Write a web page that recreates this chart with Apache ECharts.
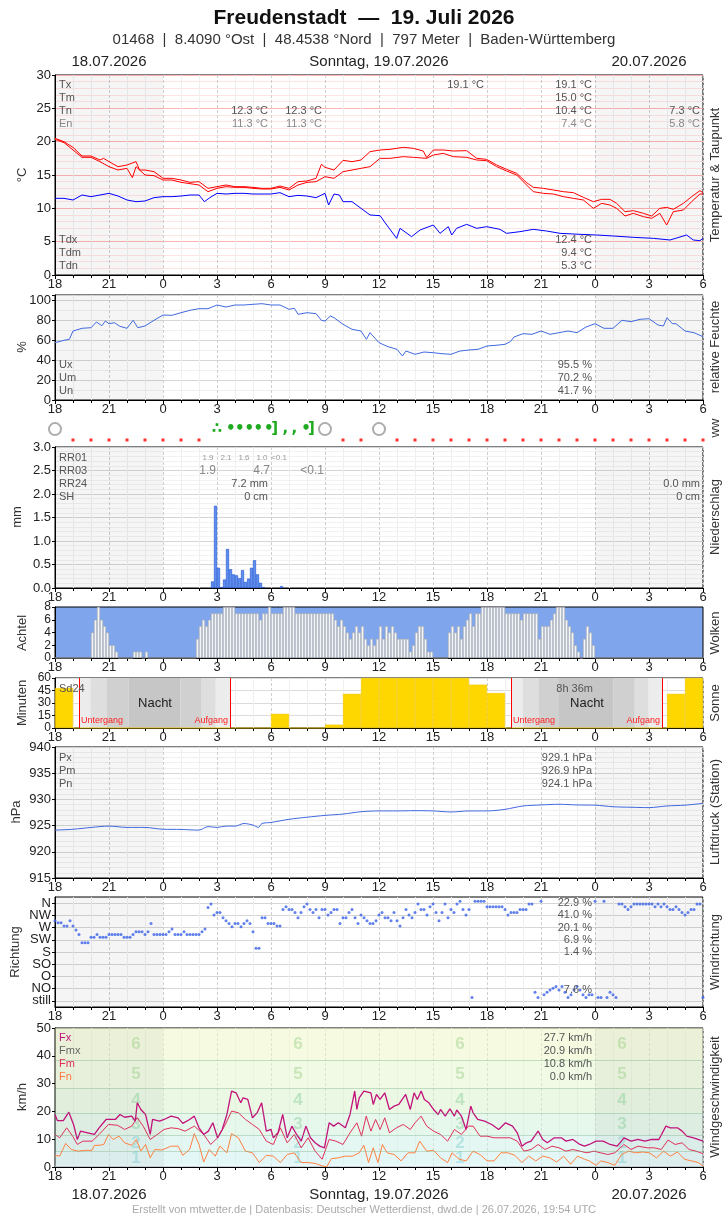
<!DOCTYPE html>
<html>
<head>
<meta charset="utf-8">
<script src="https://cdn.jsdelivr.net/npm/echarts@6/dist/echarts.min.js"></script>
<style>html,body{margin:0;padding:0;background:#fff}#chart{width:728px;height:1218px}</style>
</head>
<body>
<div id="chart"></div>
<script>
// Stunden ab 18.07. 18:00 UTC (0 .. 36)
const nightSpans = [[0, 6], [30, 36]];

// Temperatur (2 Kurven) und Taupunkt, [Stunde, °C]
const tempA = [[0,20.5],[0.5,20.0],[1.0,19.15],[1.5,17.85],[2.0,17.85],[2.5,17.25],[2.7,17.5],[3.0,17.0],[3.5,16.25],[4.0,16.5],[4.5,17.0],[4.7,15.75],[5.0,15.75],[5.5,15.5],[6.0,14.5],[6.5,14.5],[7.0,14.25],[7.5,13.9],[8.0,14.0],[8.5,13.0],[9.0,13.25],[9.5,13.5],[10,13.25],[10.5,13.25],[11,13.15],[11.5,13.0],[12,13.0],[12.5,13.35],[13,13.0],[13.5,14.0],[14,14.1],[14.5,14.5],[14.8,16.6],[15.0,16.15],[15.5,15.75],[16,17.2],[16.5,17.0],[17,17.25],[17.5,18.5],[18.06,18.75],[18.61,18.85],[19.35,19.15],[19.91,19.0],[20.46,18.6],[20.65,17.6],[21.02,18.75],[21.57,18.75],[22.13,18.6],[22.87,18.65],[23.43,17.5],[23.98,17.35],[24.54,16.5],[25.09,15.85],[25.65,15.25],[26.2,13.85],[26.57,13.15],[27.13,13.0],[27.69,12.75],[28.24,12.5],[28.8,12.35],[29.35,11.65],[29.91,11.0],[30.37,11.35],[30.83,11.35],[31.2,10.75],[31.67,9.5],[32.13,9.65],[32.69,9.25],[33.15,8.85],[33.6,10.0],[33.98,10.15],[34.35,9.85],[34.91,10.75],[35.37,11.75],[35.83,12.65],[36,12.35]];
const tempB = [[0,20.35],[0.5,19.85],[1,18.75],[1.5,17.65],[2,17.65],[2.5,17.0],[3,16.25],[3.5,15.75],[4,16.0],[4.3,14.6],[4.5,16.25],[5,15.0],[5.5,14.9],[6,14.25],[6.5,14.25],[7,13.9],[7.5,13.7],[8,13.5],[8.5,12.5],[9,13.0],[9.5,13.25],[10,13.15],[10.5,13.15],[11,13.0],[11.5,12.9],[12,12.9],[12.5,13.15],[13,12.75],[13.5,13.5],[14,13.9],[14.5,14.0],[15,14.75],[15.5,14.5],[16,15.5],[16.5,15.75],[17,16.0],[17.5,16.25],[18.06,17.5],[18.61,17.5],[19.35,17.75],[19.91,17.65],[20.65,17.5],[21.02,18.0],[21.57,18.25],[22.13,17.75],[22.87,17.65],[23.43,17.25],[23.98,17.15],[24.54,16.25],[25.09,15.6],[25.65,15.0],[26.2,13.5],[26.57,12.5],[27.13,12.25],[27.69,12.15],[28.24,11.75],[28.8,11.5],[29.35,11.25],[29.91,10.0],[30.37,10.75],[30.83,10.5],[31.2,10.0],[31.67,8.85],[32.13,9.25],[32.69,8.75],[33.15,8.5],[33.6,9.25],[33.98,7.5],[34.35,9.5],[34.91,9.75],[35.37,11.0],[35.83,12.15],[36,12.15]];
const dewPoint = [[0,11.5],[0.5,11.5],[1,11.25],[1.5,12.0],[2,11.75],[2.5,12.0],[3,12.25],[3.5,11.85],[4,11.25],[4.5,11.0],[5,11.1],[5.5,11.6],[6,11.75],[6.5,11.75],[7,11.85],[7.5,12.0],[8,12.0],[8.3,11.0],[8.6,11.6],[9,12.25],[9.5,12.15],[10,12.25],[10.5,12.25],[11,12.15],[11.5,12.15],[12,12.15],[12.5,12.35],[13,11.75],[13.5,11.95],[14,11.85],[14.5,11.6],[15,12.25],[15.2,10.5],[15.5,12.15],[15.8,12.0],[16,11.0],[16.5,11.0],[17,10.0],[17.5,9.0],[18.06,8.9],[18.43,7.5],[18.98,5.5],[19.17,7.0],[19.81,5.75],[20.28,6.75],[21.02,7.5],[21.39,6.25],[21.85,7.25],[22.04,6.0],[22.31,7.0],[22.87,7.6],[23.43,7.0],[23.98,7.25],[24.72,6.85],[25.09,6.25],[25.83,6.5],[26.57,6.85],[27.31,6.6],[28.06,6.25],[29.17,6.1],[30.09,6.0],[31.02,5.85],[32.13,5.65],[33.24,5.5],[34.17,5.25],[35.09,6.0],[35.46,5.25],[35.83,5.15],[36,5.5]];

// relative Feuchte [Stunde, %]
const humidity = [[0,57.3],[0.5,59.7],[0.8,60.7],[1.0,69],[1.5,71.7],[2,72.3],[2.3,78],[2.6,74.3],[2.8,79],[3,76.3],[3.3,77.3],[3.6,73.7],[4,71.7],[4.34,79.7],[4.6,72.3],[5,74],[5.5,79.7],[6,85],[6.5,84.7],[7,87.3],[7.5,89.7],[8,91.3],[8.5,91.3],[9,95],[9.5,93],[10,95],[10.5,95],[11,95.7],[11.5,96.3],[12,95],[12.5,95],[13,90.7],[13.3,91.7],[13.5,85.7],[14,87.3],[14.5,86.3],[14.8,79.7],[15,79],[15.3,84],[15.5,82.3],[16,75.7],[16.5,70.7],[17,69],[17.3,60.7],[17.5,67.3],[18,57.3],[18.5,53.3],[19,50.7],[19.3,44],[19.5,49],[20,45.7],[20.5,48],[21,47.3],[21.5,46.3],[22,45.7],[22.5,49],[23,50],[23.5,50.7],[24,54],[24.5,54.7],[25,55.7],[25.3,58.3],[25.5,63],[26,66.3],[26.5,65.7],[27,69],[27.5,65.7],[28,67.3],[28.5,69],[29,67.3],[29.5,73],[30,76.3],[30.5,71.7],[31,71.7],[31.5,79.7],[32,78.3],[32.5,80.7],[33,81.3],[33.5,75],[33.8,74],[34,82.3],[34.3,76.3],[34.5,76.3],[35,69],[35.5,67.3],[36,63.3]];

// ww-Symbole
const wwClear = [0, 15, 18];
const wwGlyphs = [['∴', 9.0], ['•', 9.77], ['•', 10.26], ['•', 10.79], ['•', 11.3], ['•', 11.88], [']', 12.2], [',', 12.8], [',', 13.3], ['•', 13.95], [']', 14.25]];
const wwNone = [1,2,3,4,5,6,7,8,16,17,19,20,21,22,23,24,25,26,27,28,29,30,31,32,33,34,35,36];

// Niederschlag 10-min [Intervall-Nr. (x6 = Stunde), mm]
const rr10 = [[52,0.14],[53,1.75],[54,0.43],[55,0.02],[56,0.18],[57,0.83],[58,0.40],[59,0.29],[60,0.27],[61,0.21],[62,0.38],[63,0.13],[64,0.20],[65,0.43],[66,0.59],[67,0.29],[68,0.11],[69,0.02],[75,0.04]];

// Bedeckung in Achtel, 10-min
const clouds = [
  0,0,0,0,0,0,0,0,0,0,0,0,4,6,8,6,5,4,
  2,2,1,0,0,0,0,0,1,1,1,0,1,0,0,0,0,0,
  0,0,0,0,0,0,0,0,0,0,0,3,5,6,5,6,7,7,
  7,7,8,8,8,8,7,7,7,7,7,7,7,7,6,7,7,8,
  7,7,7,7,8,8,8,8,7,7,7,7,7,7,7,7,7,7,
  7,7,7,6,5,6,5,4,3,4,5,4,5,3,2,3,2,3,
  5,3,5,4,5,4,3,3,3,3,1,2,4,5,5,3,1,1,
  0,0,0,0,0,4,5,4,5,3,5,6,7,5,7,7,8,8,
  8,8,8,8,8,8,7,7,7,7,7,6,7,7,7,7,7,3,
  5,5,5,6,7,8,8,8,6,5,4,2,1,0,3,5,4,2,
  0,0,0,0,0,0,0,0,0,0,0,0,0,0,0,0,0,0,
  0,0,0,0,0,0,0,0,0,0,0,0,0,0,0,0,0,0
];

// Sonnenscheindauer je Stunde (Minuten)
const sunMin = [48,0,0,0,0,0,0,0,0,0,0,0,17,0,0,4,41,60,60,60,60,60,60,52,42,0,0,0,0,0,0,0,0,0,41,60];
// Untergang, Daemmerungsgrenzen, Aufgang (Stunden)
const night1 = [1.34, 1.96, 2.89, 4.08, 6.97, 8.15, 8.93, 9.73];
const night2 = [25.34, 25.99, 26.89, 28.0, 31.02, 32.21, 32.98, 33.75];

// Luftdruck [Stunde, hPa]
const pressure = [[0,924.14],[1,924.3],[2,924.65],[3,924.9],[4,924.65],[5,924.65],[6,924.3],[7,924.27],[8,924.14],[8.5,924.8],[9,924.65],[9.5,924.9],[10,924.9],[10.5,925.4],[11,925.1],[11.3,924.65],[11.5,925.4],[12,925.6],[13,926.2],[14,926.6],[15,926.95],[16,927.2],[17,927.65],[18,927.8],[19,927.8],[20,927.85],[21,927.8],[22,927.6],[23,927.8],[24,927.8],[25,928.1],[26,928.75],[27,928.94],[28,929.07],[29,928.94],[30,928.9],[31,928.6],[32,928.5],[33,928.43],[34,928.75],[35,928.9],[36,929.25]];

// Windrichtung 10-min (0=N,1=NW,2=W,3=SW,4=S,5=SO,6=O,7=NO,8=still)
const dirNames = ['N', 'NW', 'W', 'SW', 'S', 'SO', 'O', 'NO', 'still'];
const windDir = [
  1.44,1.6,1.6,1.88,1.88,1.44,1.88,2.2,2.56,3.24,
  3.24,3.24,2.8,2.8,2.56,2.8,2.8,2.8,2.56,2.56,
  2.56,2.56,2.56,2.8,2.8,2.8,2.56,2.34,2.34,2.34,
  2.56,2.34,1.66,2.56,2.56,2.56,2.56,2.56,2.34,2.12,
  2.56,2.56,2.56,2.34,2.56,2.56,2.56,2.56,2.56,2.34,
  2.12,0.35,0.08,0.98,0.76,0.76,1.2,1.44,1.66,1.93,
  1.66,1.66,1.93,1.66,1.44,1.66,2.34,3.7,3.7,1.2,
  1.2,1.66,1.66,1.66,1.88,1.88,0.52,0.3,0.52,0.52,
  0.76,1.2,0.76,0.3,0.08,0.52,0.76,0.52,1.2,0.52,
  0.52,0.98,0.76,0.52,0.52,1.66,1.2,1.2,0.76,0.52,
  1.2,1.66,0.98,1.2,1.44,1.66,1.66,1.44,0.98,0.76,
  1.2,1.2,1.44,0.76,1.44,1.88,1.2,0.52,0.98,1.2,
  0.76,0.08,0.52,0.52,0.98,0.3,0.08,0.76,1.44,0.76,
  0.08,1.2,0.52,0.76,0.08,-0.16,0.52,0.98,0.52,7.73,
  -0.16,-0.16,-0.16,-0.16,0.3,0.3,0.3,0.3,0.3,0.3,
  0.52,0.98,0.76,0.76,0.76,0.52,0.52,0.52,0.08,0.08,
  7.3,7.73,-0.16,7.5,7.3,7.1,6.97,6.83,7.1,6.83,
  7.3,7.73,7.5,7.1,6.83,7.1,7.5,7.73,7.5,7.5,
  -0.16,7.73,7.73,-0.16,7.73,7.3,7.5,7.73,0.08,0.08,
  0.3,0.52,0.3,0.08,0.08,0.08,0.08,0.08,0.08,0.08,
  0.3,0.08,0.3,0.08,0.3,0.52,0.52,0.3,0.52,0.76,
  0.98,0.76,0.52,0.52,0.08,0.08,7.73
];

// Windgeschwindigkeit [Stunde, km/h]
const windFx = [[0,18.9],[0.13,16.7],[0.46,16.7],[0.77,19.7],[1.03,15.3],[1.24,9.9],[1.42,12.9],[1.81,12.3],[2.19,11.7],[2.45,14.1],[2.84,17.1],[3.35,17.1],[3.61,18.9],[3.87,17.9],[4.26,18.3],[4.46,16.5],[4.57,23.1],[4.77,20.7],[5.03,18.9],[5.29,11.7],[5.42,17.1],[5.81,16.5],[6.06,17.1],[6.45,18.3],[6.84,17.7],[7.1,15.7],[7.48,17.1],[7.74,18.3],[8.0,14.1],[8.26,11.7],[8.52,12.9],[8.77,15.9],[9.03,10.5],[9.29,13.5],[9.55,18.9],[9.81,27.3],[10.06,26.7],[10.32,23.1],[10.45,24.9],[10.71,24.3],[10.97,17.7],[11.23,19.5],[11.48,23.1],[11.74,12.9],[12.0,13.5],[12.13,10.5],[12.39,12.3],[12.65,18.9],[12.9,10.5],[13.16,14.7],[13.42,11.7],[13.68,9.3],[13.94,14.7],[14.19,10.5],[14.45,8.7],[14.71,7.5],[14.97,6.9],[15.23,15.9],[15.48,14.7],[15.74,15.9],[16.13,14.1],[16.39,18.9],[16.65,27.3],[16.77,20.7],[16.9,24.9],[17.16,27.3],[17.55,26.7],[17.68,22.5],[17.86,26.1],[18.06,24.3],[18.32,26.7],[18.58,20.7],[18.84,21.9],[19.1,22.5],[19.48,26.1],[19.74,20.7],[19.95,26.7],[20.13,24.3],[20.34,27.3],[20.52,24.3],[20.77,23.1],[21.03,20.7],[21.29,18.9],[21.42,20.7],[21.68,18.3],[21.94,20.9],[22.19,18.3],[22.32,20.5],[22.58,18.3],[22.84,13.5],[23.1,21.9],[23.23,19.5],[23.48,17.1],[23.87,16.5],[24.26,15.3],[24.65,13.5],[25.03,15.9],[25.42,14.7],[25.68,12.3],[25.94,7.5],[26.19,8.7],[26.45,9.3],[26.84,12.9],[27.1,9.9],[27.35,8.7],[27.74,10.5],[28.13,10.5],[28.39,9.3],[28.77,9.9],[29.16,8.1],[29.42,7.5],[29.68,8.1],[30.06,9.3],[30.45,9.3],[30.84,8.1],[31.23,7.5],[31.61,10.5],[32.0,9.3],[32.39,9.9],[32.77,9.3],[33.16,9.9],[33.55,9.9],[33.94,14.7],[34.19,14.1],[34.58,14.1],[34.84,12.9],[35.1,11.1],[35.48,10.5],[36,9.3]];
const windFm = [[0,11.7],[0.26,10.5],[0.65,14.1],[0.98,11.1],[1.24,8.1],[1.55,9.3],[2.06,9.3],[2.45,11.7],[2.97,15.3],[3.48,15.0],[3.87,13.5],[4.26,14.7],[4.57,17.7],[4.9,14.7],[5.29,9.9],[5.68,11.7],[6.06,13.5],[6.45,14.1],[6.84,13.8],[7.23,12.9],[7.74,14.7],[8.26,11.7],[8.65,8.1],[9.03,10.5],[9.42,14.7],[9.81,20.1],[10.19,19.5],[10.58,17.1],[10.97,15.3],[11.35,13.5],[11.74,9.3],[12.13,8.1],[12.52,14.1],[12.9,8.7],[13.29,11.7],[13.68,6.9],[14.06,10.5],[14.45,5.7],[14.84,2.8],[15.23,9.9],[15.61,9.3],[16.0,8.1],[16.39,12.3],[16.77,15.9],[17.03,11.1],[17.29,18.3],[17.55,12.9],[17.81,17.1],[18.06,13.5],[18.32,17.7],[18.58,12.3],[18.97,14.1],[19.35,15.3],[19.74,13.5],[20.0,15.9],[20.34,18.3],[20.65,14.7],[21.03,12.9],[21.42,11.7],[21.81,9.3],[22.19,13.5],[22.58,11.7],[22.97,14.7],[23.23,14.7],[23.61,11.1],[24.0,11.1],[24.39,10.5],[24.77,10.5],[25.29,10.5],[25.68,9.3],[26.06,5.7],[26.45,6.3],[26.84,8.1],[27.23,6.3],[27.61,7.5],[28.0,6.9],[28.39,5.7],[28.77,6.3],[29.16,5.7],[29.55,5.1],[29.94,5.7],[30.32,5.1],[30.71,4.5],[31.1,5.1],[31.61,8.1],[32.0,6.3],[32.39,7.5],[32.9,6.9],[33.29,6.9],[33.68,6.3],[34.06,9.7],[34.45,8.1],[34.84,8.7],[35.23,6.3],[35.61,5.7],[36,4.8]];
const windFn = [[0,4.2],[0.26,3.9],[0.59,8.5],[0.9,6.3],[1.29,5.7],[1.68,6.0],[2.06,6.0],[2.19,7.8],[2.45,7.8],[2.71,8.1],[2.97,11.7],[3.23,9.9],[3.56,11.1],[3.87,8.7],[4.26,7.8],[4.52,9.9],[4.77,5.7],[5.03,8.1],[5.29,3.3],[5.55,6.3],[5.94,6.1],[6.45,7.5],[6.84,7.5],[7.1,4.2],[7.48,6.3],[7.74,12.0],[8.0,8.1],[8.26,1.8],[8.57,6.3],[8.9,3.9],[9.16,7.5],[9.55,5.1],[9.81,12.0],[10.19,10.5],[10.58,5.7],[10.97,5.1],[11.35,1.6],[11.74,4.2],[12.13,3.9],[12.52,1.6],[12.9,4.5],[13.29,5.1],[13.68,1.6],[14.06,1.6],[14.45,1.3],[14.84,0.4],[15.1,0.1],[15.35,3.0],[15.74,3.3],[16.13,3.9],[16.52,3.9],[16.9,5.1],[17.16,7.8],[17.42,1.6],[17.68,6.9],[17.94,1.6],[18.19,8.1],[18.45,5.1],[18.84,4.5],[19.23,2.2],[19.61,5.1],[20.0,5.1],[20.26,9.3],[20.65,5.7],[21.03,6.0],[21.42,3.3],[21.81,1.6],[22.06,5.1],[22.45,2.8],[22.84,2.2],[23.23,5.7],[23.61,4.5],[24.0,2.2],[24.39,2.2],[24.77,5.1],[25.16,5.1],[25.55,4.2],[25.94,1.6],[26.32,3.9],[26.71,2.2],[27.1,3.9],[27.48,3.3],[27.87,1.8],[28.26,3.9],[28.65,1.0],[29.03,3.9],[29.42,2.8],[29.68,2.2],[30.06,0.6],[30.32,2.2],[30.71,1.6],[31.1,0.6],[31.48,4.5],[31.87,5.7],[32.26,5.1],[32.65,5.4],[33.03,5.1],[33.42,3.3],[33.81,5.7],[34.19,3.9],[34.58,5.4],[34.97,2.8],[35.35,2.2],[35.74,1.6],[36,0.4]];

// Beaufort-Grenzen (km/h) und Beschriftungsstunden
const bftBounds = [0, 1, 5.5, 11.5, 19.5, 28.5, 38.5, 50];
const bftLabelHours = [4.5, 13.5, 22.5, 31.5];

// --- Layout ---
const NARROW = '"Liberation Sans Narrow", "Liberation Sans", sans-serif';
const SANS = '"Liberation Sans", Arial, sans-serif';
const L = 55, W = 648;
const gridBoxes = [[75, 200], [295, 105], [415, 30], [447, 141], [607, 51], [678, 50], [747, 131], [897, 110], [1028, 139]];

const grids = gridBoxes.map((b, i) => ({
  left: L, width: W, top: b[0], height: b[1],
  show: i !== 2, borderColor: '#000', borderWidth: 1,
  backgroundColor: i === 4 ? '#7fa6ec' : '#fff'
}));

function xAx(i) {
  return {
    type: 'value', gridIndex: i, min: 0, max: 36, interval: 3, show: i !== 2,
    axisLine: { onZero: false, lineStyle: { color: '#000' } },
    axisTick: { length: 4, lineStyle: { color: '#000' } },
    minorTick: { show: true, splitNumber: 3, length: 3, lineStyle: { color: '#000' } },
    axisLabel: { formatter: v => String((18 + v) % 24), color: '#222', fontSize: 13, fontFamily: NARROW, margin: 3,
      hideOverlap: false, showMinLabel: true, showMaxLabel: true },
    splitLine: { show: i !== 4, lineStyle: { color: '#cfcfcf', type: [3, 2] } },
    minorSplitLine: { show: i !== 4, lineStyle: { color: '#efefef' } }
  };
}

function yAx(i, min, max, interval, o) {
  o = o || {};
  return {
    type: 'value', gridIndex: i, min: min, max: max, interval: interval,
    axisLine: { show: true, lineStyle: { color: '#000' } },
    axisTick: { show: true, length: 3, lineStyle: { color: '#000' } },
    axisLabel: { color: '#222', fontSize: o.size || 13, lineHeight: o.lh, fontFamily: NARROW, margin: 4, formatter: o.fmt,
      hideOverlap: false, showMinLabel: true, showMaxLabel: true },
    splitLine: { show: o.split !== false, lineStyle: { color: o.splitColor || '#d6d6d6' } },
    minorTick: { show: false, splitNumber: o.minor || 5 },
    minorSplitLine: { show: !!o.minor, lineStyle: { color: o.minorColor || '#f0f0f0' } }
  };
}

const dirTicks = [0, 1, 2, 3, 4, 5, 6, 7, 8];
const xAxes = gridBoxes.map((b, i) => xAx(i));
const yAxes = [
  yAx(0, 0, 30, 5, { splitColor: '#ffb4b4', minor: 5, minorColor: '#ffe4e4' }),
  yAx(1, 0, 105, 20, { fmt: v => (v > 100 ? '' : String(v)), minor: 2, minorColor: '#f0f0f0' }),
  { type: 'value', gridIndex: 2, min: 0, max: 1, show: false },
  yAx(3, 0, 3, 0.5, { fmt: v => v.toFixed(1), minor: 5, minorColor: '#f2f2f2' }),
  yAx(4, 0, 8, 2, { split: false, size: 12, lh: 10 }),
  yAx(5, 0, 60, 15, { splitColor: '#dcdcdc', size: 12, lh: 10 }),
  yAx(6, 915, 940, 5, { minor: 5, minorColor: '#f0f0f0' }),
  {
    type: 'value', gridIndex: 7, inverse: true, min: -0.5, max: 8.5,
    axisLine: { show: true, lineStyle: { color: '#000' } },
    axisTick: { show: true, length: 3, customValues: dirTicks, lineStyle: { color: '#000' } },
    axisLabel: { show: false, customValues: dirTicks },
    splitLine: { show: true, lineStyle: { color: '#d6d6d6' } }
  },
  yAx(8, 0, 50, 10, { split: false })
];

const nightArea = {
  silent: true,
  itemStyle: { color: 'rgba(0,0,0,0.04)' },
  data: nightSpans.map(s => [{ xAxis: s[0] }, { xAxis: s[1] }])
};

function lineS(i, data, color, extra) {
  return Object.assign({
    type: 'line', xAxisIndex: i, yAxisIndex: i, data: data, showSymbol: false,
    lineStyle: { color: color, width: 1 }, itemStyle: { color: color }, animation: false, z: 3
  }, extra || {});
}

// Daemmerungsflaechen Sonne
const twiColors = ['#ececec', '#dedede', '#d0d0d0', '#c6c6c6', '#d0d0d0', '#dedede', '#ececec'];
const twiData = [];
[night1, night2].forEach(n => {
  for (let j = 0; j < 7; j++) {
    twiData.push([{ xAxis: n[j], itemStyle: { color: twiColors[j] } }, { xAxis: n[j + 1] }]);
  }
});

const bftColors = ['rgba(225,245,250,0.7)', 'rgba(210,242,242,0.6)', 'rgba(205,240,234,0.55)', 'rgba(210,241,220,0.55)', 'rgba(218,243,206,0.55)', 'rgba(230,245,205,0.55)', 'rgba(236,246,200,0.55)'];
const bftNumColor = ['rgba(110,200,200,0.4)', 'rgba(110,200,200,0.4)', 'rgba(120,200,140,0.4)', 'rgba(120,200,140,0.4)', 'rgba(140,200,120,0.4)', 'rgba(140,200,120,0.4)'];
const bftNums = [];
bftLabelHours.forEach(h => {
  for (let b = 1; b <= 6; b++) {
    bftNums.push({ value: [h, (bftBounds[b] + bftBounds[b + 1]) / 2], name: String(b),
      label: { color: bftNumColor[b - 1] } });
  }
});

const series = [
  lineS(0, tempA, '#ff0000', { markArea: nightArea }),
  lineS(0, tempB, '#ff0000'),
  lineS(0, dewPoint, '#0000ff'),
  lineS(1, humidity, '#4169e1', { markArea: nightArea }),
  {
    type: 'scatter', xAxisIndex: 2, yAxisIndex: 2, symbol: 'emptyCircle', symbolSize: 12,
    itemStyle: { color: '#999', borderColor: '#999', borderWidth: 1 },
    data: wwClear.map(h => [h, 0.53]), animation: false
  },
  {
    type: 'scatter', xAxisIndex: 2, yAxisIndex: 2, symbolSize: 1, itemStyle: { color: 'transparent' },
    data: wwGlyphs.map(g => ({ value: [g[1], 0.53], name: g[0] })),
    label: { show: true, position: 'inside', formatter: '{b}', color: '#1faa1f', opacity: 1, fontSize: 15, fontWeight: 'bold', fontFamily: 'DejaVu Sans' },
    animation: false
  },
  {
    type: 'scatter', xAxisIndex: 2, yAxisIndex: 2, symbol: 'rect', symbolSize: 3,
    itemStyle: { color: '#ff0000' }, data: wwNone.map(h => [h, 0.167]), animation: false
  },
  {
    type: 'bar', xAxisIndex: 3, yAxisIndex: 3, barWidth: 3,
    data: rr10.map(r => [r[0] / 6 + 1 / 12, r[1]]),
    itemStyle: { color: '#5d8ff0', borderColor: '#1f4fd0', borderWidth: 0.6 },
    markArea: nightArea, animation: false
  },
  {
    type: 'bar', xAxisIndex: 4, yAxisIndex: 4, barWidth: 3,
    data: clouds.map((c, k) => [k / 6 + 1 / 12, c]),
    itemStyle: { color: '#f4f5f7', borderColor: '#a9a9a9', borderWidth: 0.6 },
    animation: false
  },
  {
    type: 'bar', xAxisIndex: 5, yAxisIndex: 5, barWidth: 18,
    data: sunMin.map((m, i) => [i + 0.5, m]),
    itemStyle: { color: '#ffd700', borderColor: '#f0c400', borderWidth: 0.5 },
    markArea: { silent: true, data: twiData },
    markLine: {
      silent: true, symbol: 'none', label: { show: false },
      lineStyle: { color: '#ff0000', width: 1, type: 'solid' },
      data: [night1[0], night1[7], night2[0], night2[7]].map(h => ({ xAxis: h }))
    },
    animation: false
  },
  lineS(6, pressure, '#4169e1', { markArea: nightArea, smooth: 0.3 }),
  {
    type: 'scatter', xAxisIndex: 7, yAxisIndex: 7, symbolSize: 3,
    itemStyle: { color: '#3a62e8' },
    data: windDir.map((d, k) => [k / 6, d]),
    markArea: nightArea, animation: false
  },
  {
    // Beschriftung der Richtungsachse
    type: 'scatter', xAxisIndex: 7, yAxisIndex: 7, symbolSize: 0, clip: false, silent: true,
    itemStyle: { color: 'transparent' },
    data: dirTicks.map(i => ({ value: [0, i], name: dirNames[i] })),
    label: { show: true, position: 'left', distance: 4, formatter: '{b}', opacity: 1, color: '#222', fontSize: 13, fontFamily: NARROW },
    animation: false
  },
  lineS(8, windFn, '#ff8040', {
    markArea: {
      silent: true,
      data: bftColors.map((c, b) => [{ yAxis: bftBounds[b], itemStyle: { color: c } }, { yAxis: bftBounds[b + 1] }])
    },
    markLine: {
      silent: true, symbol: 'none', label: { show: false },
      lineStyle: { color: 'rgba(110,170,120,0.35)', width: 1, type: 'solid' },
      data: bftBounds.slice(2, 7).map(v => ({ yAxis: v }))
    }
  }),
  lineS(8, windFm, '#e0305a', { markArea: nightArea }),
  lineS(8, windFx, '#c3127a', { lineStyle: { color: '#c3127a', width: 1.3 } }),
  {
    type: 'scatter', xAxisIndex: 8, yAxisIndex: 8, symbolSize: 1, itemStyle: { color: 'transparent' },
    data: bftNums, z: 1,
    label: { show: true, position: 'inside', formatter: '{b}', opacity: 1, fontSize: 17, fontWeight: 'bold', fontFamily: SANS },
    animation: false
  }
];

// --- Texte ---
function txt(text, x, y, o) {
  o = o || {};
  const al = o.align || 'left';
  return {
    type: 'text', x: x, y: y, rotation: o.rot || 0, silent: true, z: 100,
    style: {
      text: text, fill: o.color || '#555',
      font: (o.weight || 'normal') + ' ' + (o.size || 11) + 'px ' + (o.family || SANS),
      align: al, verticalAlign: 'middle', textAlign: al, textVerticalAlign: 'middle'
    }
  };
}
const vert = (t, x, y) => txt(t, x, y, { rot: Math.PI / 2, align: 'center', size: 13, color: '#333' });

const g = [
  txt('Freudenstadt  —  19. Juli 2026', 364, 18, { align: 'center', size: 21, weight: 'bold', family: NARROW, color: '#111' }),
  txt('01468  |  8.4090 °Ost  |  48.4538 °Nord  |  797 Meter  |  Baden-Württemberg', 364, 40, { align: 'center', size: 15, family: NARROW, color: '#333' }),
  txt('18.07.2026', 109, 62, { align: 'center', size: 15, family: NARROW, color: '#222' }),
  txt('Sonntag, 19.07.2026', 379, 62, { align: 'center', size: 15, family: NARROW, color: '#222' }),
  txt('20.07.2026', 649, 62, { align: 'center', size: 15, family: NARROW, color: '#222' }),
  txt('18.07.2026', 109, 1195, { align: 'center', size: 15, family: NARROW, color: '#222' }),
  txt('Sonntag, 19.07.2026', 379, 1195, { align: 'center', size: 15, family: NARROW, color: '#222' }),
  txt('20.07.2026', 649, 1195, { align: 'center', size: 15, family: NARROW, color: '#222' }),
  txt('Erstellt von mtwetter.de | Datenbasis: Deutscher Wetterdienst, dwd.de | 26.07.2026, 19:54 UTC', 364, 1210, { align: 'center', size: 11, color: '#aaa' }),

  vert('°C', 22, 175), vert('%', 22, 347), vert('mm', 17, 517), vert('Achtel', 22, 633),
  vert('Minuten', 22, 703), vert('hPa', 16, 812), vert('Richtung', 15, 952), vert('km/h', 22, 1097),
  vert('Temperatur & Taupunkt', 715, 175), vert('relative Feuchte', 715, 347), vert('ww', 715, 428),
  vert('Niederschlag', 715, 517), vert('Wolken', 715, 633), vert('Sonne', 715, 703),
  vert('Luftdruck (Station)', 715, 812), vert('Windrichtung', 715, 952), vert('Windgeschwindigkeit', 715, 1097)
];

const C1 = '#555', C2 = '#888';
const statRows = [
  // Temperatur
  ['Tx', 59, 85, 'left', C1], ['Tm', 59, 98, 'left', C1], ['Tn', 59, 111, 'left', C1], ['En', 59, 124, 'left', C2],
  ['12.3 °C', 268, 111, 'right', C1], ['11.3 °C', 268, 124, 'right', C2],
  ['12.3 °C', 322, 111, 'right', C1], ['11.3 °C', 322, 124, 'right', C2],
  ['19.1 °C', 484, 85, 'right', C1],
  ['19.1 °C', 592, 85, 'right', C1], ['15.0 °C', 592, 98, 'right', C1], ['10.4 °C', 592, 111, 'right', C1], ['7.4 °C', 592, 124, 'right', C2],
  ['7.3 °C', 700, 111, 'right', C1], ['5.8 °C', 700, 124, 'right', C2],
  ['Tdx', 59, 240, 'left', C1], ['Tdm', 59, 253, 'left', C1], ['Tdn', 59, 266, 'left', C1],
  ['12.4 °C', 592, 240, 'right', C1], ['9.4 °C', 592, 253, 'right', C1], ['5.3 °C', 592, 266, 'right', C1],
  // Feuchte
  ['Ux', 59, 365, 'left', C1], ['Um', 59, 378, 'left', C1], ['Un', 59, 391, 'left', C1],
  ['95.5 %', 592, 365, 'right', C1], ['70.2 %', 592, 378, 'right', C1], ['41.7 %', 592, 391, 'right', C1],
  // Niederschlag
  ['RR01', 59, 458, 'left', C1], ['RR03', 59, 471, 'left', C1], ['RR24', 59, 484, 'left', C1], ['SH', 59, 497, 'left', C1],
  ['7.2 mm', 268, 484, 'right', C1], ['0 cm', 268, 497, 'right', C1],
  ['0.0 mm', 700, 484, 'right', C1], ['0 cm', 700, 497, 'right', C1],
  // Luftdruck
  ['Px', 59, 758, 'left', C1], ['Pm', 59, 771, 'left', C1], ['Pn', 59, 784, 'left', C1],
  ['929.1 hPa', 592, 758, 'right', C1], ['926.9 hPa', 592, 771, 'right', C1], ['924.1 hPa', 592, 784, 'right', C1],
  // Windrichtung
  ['22.9 %', 592, 903, 'right', C1], ['41.0 %', 592, 915, 'right', C1], ['20.1 %', 592, 928, 'right', C1],
  ['6.9 %', 592, 940, 'right', C1], ['1.4 %', 592, 952, 'right', C1], ['7.6 %', 592, 990, 'right', C1],
  // Wind
  ['Fx', 59, 1038, 'left', '#c3127a'], ['Fmx', 59, 1051, 'left', '#666'], ['Fm', 59, 1064, 'left', '#e0305a'], ['Fn', 59, 1077, 'left', '#ff7a40'],
  ['27.7 km/h', 592, 1038, 'right', C1], ['20.9 km/h', 592, 1051, 'right', C1], ['10.8 km/h', 592, 1064, 'right', C1], ['0.0 km/h', 592, 1077, 'right', C1],
  // Sonne
  ['Sd24', 59, 689, 'left', C1], ['8h 36m', 593, 689, 'right', C1]
];
statRows.forEach(r => g.push(txt(r[0], r[1], r[2], { align: r[3], color: r[4] })));

// RR01 / RR03 Einzelwerte
[['1.9', 208], ['2.1', 226], ['1.6', 244], ['1.0', 262], ['<0.1', 279]].forEach(r => g.push(txt(r[0], r[1], 458, { align: 'center', size: 8, color: '#999' })));
[['1.9', 216], ['4.7', 270], ['<0.1', 324]].forEach(r => g.push(txt(r[0], r[1], 471, { align: 'right', size: 12, color: '#888' })));

// Sonne: Nacht / Untergang / Aufgang
g.push(txt('Nacht', 155, 703, { align: 'center', size: 13, color: '#222' }));
g.push(txt('Nacht', 587, 703, { align: 'center', size: 13, color: '#222' }));
g.push(txt('Untergang', 81, 721, { size: 9, color: '#ff2020' }));
g.push(txt('Aufgang', 228, 721, { align: 'right', size: 9, color: '#ff2020' }));
g.push(txt('Untergang', 513, 721, { size: 9, color: '#ff2020' }));
g.push(txt('Aufgang', 660, 721, { align: 'right', size: 9, color: '#ff2020' }));

const chart = echarts.init(document.getElementById('chart'));
chart.setOption({
  backgroundColor: '#fff',
  animation: false,
  grid: grids,
  xAxis: xAxes,
  yAxis: yAxes,
  series: series,
  graphic: g
});
</script>
</body>
</html>
